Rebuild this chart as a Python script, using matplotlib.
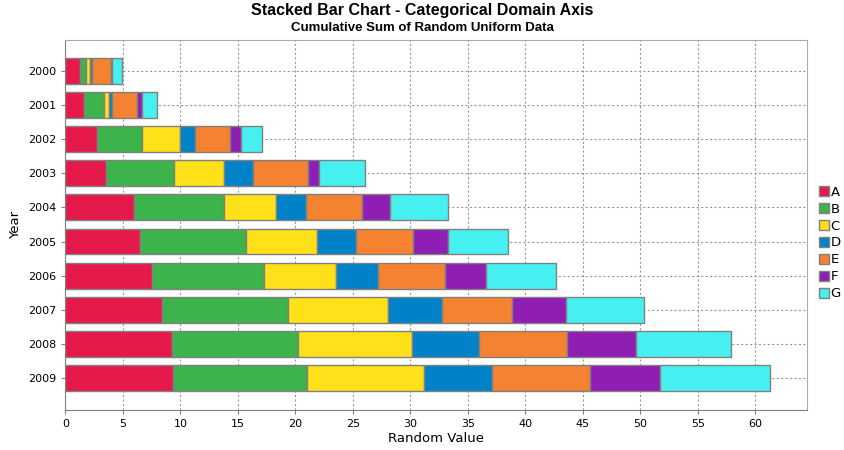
import numpy as np
import matplotlib.pyplot as plt

# Данные (приращения по сериям, читаются с рисунка)
years = ["2000", "2001", "2002", "2003", "2004", "2005", "2006", "2007", "2008", "2009"]
series = ["A", "B", "C", "D", "E", "F", "G"]
a_vals = [1.28, 1.65, 2.78, 3.54, 5.97, 6.52, 7.54, 8.41, 9.30, 9.39]
b_vals = [0.55, 1.74, 3.92, 5.94, 7.86, 9.19, 9.71, 10.93, 10.96, 11.60]
c_vals = [0.32, 0.41, 3.30, 4.35, 4.52, 6.20, 6.32, 8.75, 9.91, 10.23]
d_vals = [0.15, 0.29, 1.30, 2.52, 2.61, 3.39, 3.65, 4.67, 5.83, 5.91]
e_vals = [1.63, 2.17, 3.05, 4.78, 4.87, 4.96, 5.82, 6.11, 7.65, 8.52]
f_vals = [0.15, 0.41, 0.95, 0.96, 2.43, 3.04, 3.57, 4.70, 6.00, 6.09]
g_vals = [0.88, 1.33, 1.83, 4.00, 5.04, 5.15, 6.09, 6.78, 8.26, 9.56]
colors = ["#E6194B", "#3CB44B", "#FFE119", "#0082C8", "#F58231", "#911EB4", "#46F0F0"]

values = [a_vals, b_vals, c_vals, d_vals, e_vals, f_vals, g_vals]

plt.rcParams['font.family'] = ['DejaVu Sans']

fig = plt.figure(figsize=(8.45, 4.5), dpi=100)
ax = fig.add_axes([0.0773, 0.0889, 0.8774, 0.8215])

y = np.arange(len(years))
left = np.zeros(len(years))
for name, vals, col in zip(series, values, colors):
    ax.barh(y, vals, left=left, height=0.76, color=col, edgecolor="#808080",
            linewidth=1.0, label=name, zorder=3)
    left += np.array(vals)

ax.set_xlim(0, 64.46)
ax.set_ylim(9.94, -0.9)
ax.set_yticks(y)
ax.set_yticklabels(years)
ax.set_xticks(np.arange(0, 61, 5))

ax.grid(True, color="#999999", linestyle=(0, (2, 2)), linewidth=0.8, zorder=0)
for s in ax.spines.values():
    s.set_color("#aaaaaa")
ax.spines["left"].set_color("#808080")
ax.spines["bottom"].set_color("#808080")
ax.tick_params(axis="both", labelsize=8, color="#808080", length=3)

ax.set_xlabel("Random Value", fontsize=9.5, labelpad=2)
ax.set_ylabel("Year", fontsize=9.5, labelpad=4)

fig.text(0.5, 0.977, "Stacked Bar Chart - Categorical Domain Axis", ha="center", va="center",
         fontsize=11.5, fontweight="bold", family=["Liberation Sans", "DejaVu Sans"])
fig.text(0.5, 0.938, "Cumulative Sum of Random Uniform Data", ha="center", va="center",
         fontsize=9.5, fontweight="bold", family=["Liberation Sans", "DejaVu Sans"])

leg = fig.legend(loc="center left", bbox_to_anchor=(0.969, 0.46), frameon=False,
                 handlelength=0.75, handleheight=0.75, handletextpad=0.15,
                 labelspacing=0.3, fontsize=9.5, borderaxespad=0, borderpad=0)

plt.savefig("out.png", dpi=100)
